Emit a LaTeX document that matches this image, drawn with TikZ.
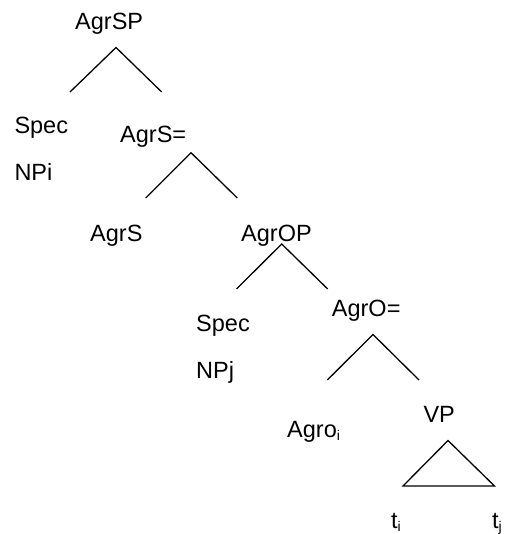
\documentclass[tikz,border=0pt]{standalone}
\usepackage{fontspec}
\setmainfont{Liberation Sans}
\newcommand\lowsub[1]{\raisebox{-3pt}{\fontsize{14}{14}\selectfont #1}}
\begin{document}
\begin{tikzpicture}[x=1pt,y=-1pt,
  lbl/.style={anchor=base west,inner sep=0pt,font=\fontsize{23.5}{28}\selectfont},
  branch/.style={line width=1.3pt,line join=miter}]
\useasboundingbox (0,0) rectangle (507,534);
% labels
\node[lbl] (agrsp) at (75,30) {AgrSP};
\node[lbl] (spec1) at (14.3,134) {Spec};
\node[lbl] (npi) at (14.3,181) {NPi};
\node[lbl] (agrsbar) at (120,142.5) {AgrS=};
\node[lbl] (agrs) at (90,241) {AgrS};
\node[lbl] (agrop) at (241,241) {AgrOP};
\node[lbl] (spec2) at (196,331.5) {Spec};
\node[lbl] (npj) at (196,378.5) {NPj};
\node[lbl] (agrobar) at (331.7,316) {AgrO=};
\node[lbl] (agro) at (287,437.5) {Agro\lowsub{i}};
\node[lbl] (vp) at (423.3,422.5) {VP};
\node[lbl] (ti) at (391,528) {t\lowsub{i}};
\node[lbl] (tj) at (492,528) {t\lowsub{j}};
% branch points
\coordinate (a1) at (116,47.5);   \coordinate (l1) at (70,92);    \coordinate (r1) at (161.7,92);
\coordinate (a2) at (191,152.7);  \coordinate (l2) at (145.7,198); \coordinate (r2) at (237.3,198);
\coordinate (a3) at (281.7,244);  \coordinate (l3) at (236.5,289); \coordinate (r3) at (327.7,289);
\coordinate (a4) at (373,334.5);  \coordinate (l4) at (327.3,380); \coordinate (r4) at (419,380);
\coordinate (a5) at (448,440.5);  \coordinate (l5) at (403,486);   \coordinate (r5) at (494.5,486);
\draw[branch] (l1) -- (a1) -- (r1);
\draw[branch] (l2) -- (a2) -- (r2);
\draw[branch] (l3) -- (a3) -- (r3);
\draw[branch] (l4) -- (a4) -- (r4);
\draw[branch] (l5) -- (a5) -- (r5) -- cycle;
\end{tikzpicture}
\end{document}
